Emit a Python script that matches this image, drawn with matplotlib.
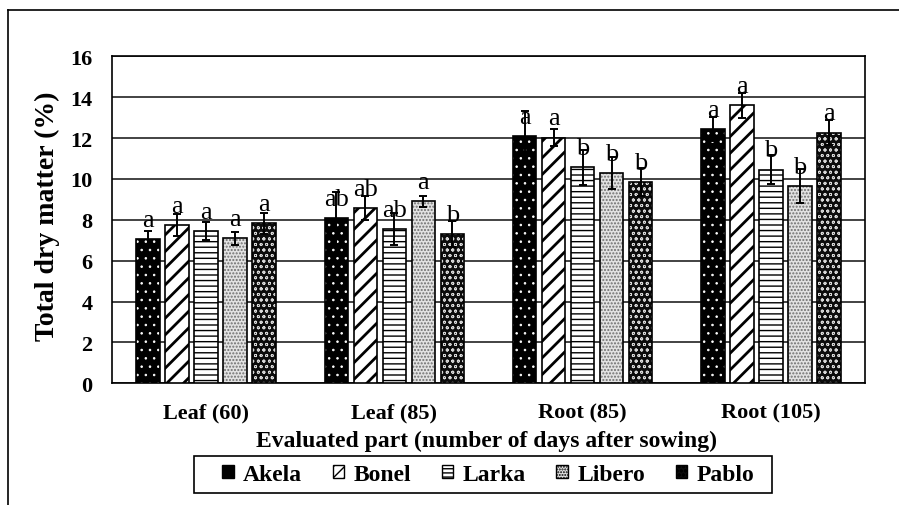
import matplotlib
matplotlib.use("Agg")
import matplotlib.pyplot as plt
from matplotlib.patches import Patch, Rectangle
from matplotlib.lines import Line2D
import numpy as np

plt.rcParams['font.family'] = ['Liberation Serif', 'DejaVu Serif']

# data
parts = ["Leaf (60)", "Leaf (85)", "Root (85)", "Root (105)"]
cultivars = ["Akela", "Bonel", "Larka", "Libero", "Pablo"]

akela = [7.05, 8.08, 12.09, 12.45]
bonel = [7.75, 8.57, 12.02, 13.60]
larka = [7.44, 7.54, 10.57, 10.45]
libero = [7.10, 8.90, 10.29, 9.66]
pablo = [7.82, 7.31, 9.85, 12.26]

akela_err = [0.38, 1.30, 1.25, 0.60]
bonel_err = [0.53, 0.60, 0.40, 0.62]
larka_err = [0.44, 0.78, 0.85, 0.72]
libero_err = [0.31, 0.27, 0.80, 0.84]
pablo_err = [0.50, 0.65, 0.70, 0.60]

akela_let = ["a", "ab", "a", "a"]
bonel_let = ["a", "ab", "a", "a"]
larka_let = ["a", "ab", "b", "b"]
libero_let = ["a", "a", "b", "b"]
pablo_let = ["a", "b", "b", "a"]

values = [akela, bonel, larka, libero, pablo]
errors = [akela_err, bonel_err, larka_err, libero_err, pablo_err]
letters = [akela_let, bonel_let, larka_let, libero_let, pablo_let]

# (face, hatch, hatch colour, hatch linewidth)
styles = [("black", "..", "white", 0.6),
          ("white", "//", "black", 2.0),
          ("white", "---", "black", 1.0),
          ("#e2e2e2", ".....", "#6e6e6e", 1.0),
          ("#0c0c0c", "ooo", "#d8d8d8", 0.6)]

fig = plt.figure(figsize=(8.99, 5.06), dpi=100)
ax = fig.add_axes([0.1246, 0.2405, 0.8376, 0.6463])

x = np.arange(len(parts))
width = 0.125
step = 0.154

for i, name in enumerate(cultivars):
    face, hatch, hcol, hlw = styles[i]
    pos = x + (i - 2) * step
    with plt.rc_context({'hatch.linewidth': hlw}):
        ax.bar(pos, values[i], width, color=face, edgecolor=hcol, hatch=hatch, linewidth=0, zorder=3)
    ax.bar(pos, values[i], width, facecolor="none", edgecolor="black", linewidth=1.2, zorder=4)
    ax.errorbar(pos, values[i], yerr=errors[i], fmt="none", ecolor="black",
                elinewidth=1.4, capsize=3, capthick=1.4, zorder=5)
    for p, v, t in zip(pos, values[i], letters[i]):
        ax.annotate(t, (p, v), xytext=(0, 6), textcoords="offset points",
                    ha="center", va="bottom", fontsize=19, zorder=6)

ax.set_xlim(-0.5, 3.5)
ax.set_ylim(0, 16)
ax.set_yticks(range(0, 17, 2))
ax.set_xticks(x)
ax.set_xticklabels(parts)
ax.tick_params(length=0, labelsize=16)
ax.tick_params(axis="y", pad=14)
ax.tick_params(axis="x", pad=14)
for lab in ax.get_xticklabels() + ax.get_yticklabels():
    lab.set_fontweight("bold")
ax.grid(axis="y", color="#222222", linewidth=1.2, zorder=0)
for s in ax.spines.values():
    s.set_linewidth(1.2)
    s.set_color("black")

fig.text(47 / 899, 1 - 216 / 506, "Total dry matter (%)", rotation=90,
         ha="center", va="center", fontsize=20, fontweight="bold")
fig.text(487 / 899, 1 - 441 / 506, "Evaluated part (number of days after sowing)",
         ha="center", va="center", fontsize=17, fontweight="bold")

# legend: entries without frame, box drawn separately
handles = []
for s in styles:
    with plt.rc_context({'hatch.linewidth': min(s[3], 1.0)}):
        handles.append(Patch(facecolor=s[0], edgecolor="black", hatch=s[1] + s[1][0], linewidth=1))
fig.legend(handles, cultivars, loc="center", bbox_to_anchor=(488 / 899, 1 - 475.5 / 506),
           ncol=5, frameon=False, handlelength=0.5, handleheight=0.5, handletextpad=0.38,
           columnspacing=1.3, prop={"weight": "bold", "size": 17}, borderaxespad=0)
fig.add_artist(Rectangle((194 / 899, 1 - 494 / 506), 578 / 899, 37 / 506,
                         transform=fig.transFigure, facecolor="none",
                         edgecolor="black", linewidth=1.2))

# outer frame (left and top edges only)
fig.add_artist(Line2D([8 / 899, 8 / 899], [0, 1 - 11 / 506], color="black", linewidth=1.2))
fig.add_artist(Line2D([8 / 899, 1], [1 - 11 / 506, 1 - 11 / 506], color="black", linewidth=1.2))

fig.savefig("out.png", dpi=100)
